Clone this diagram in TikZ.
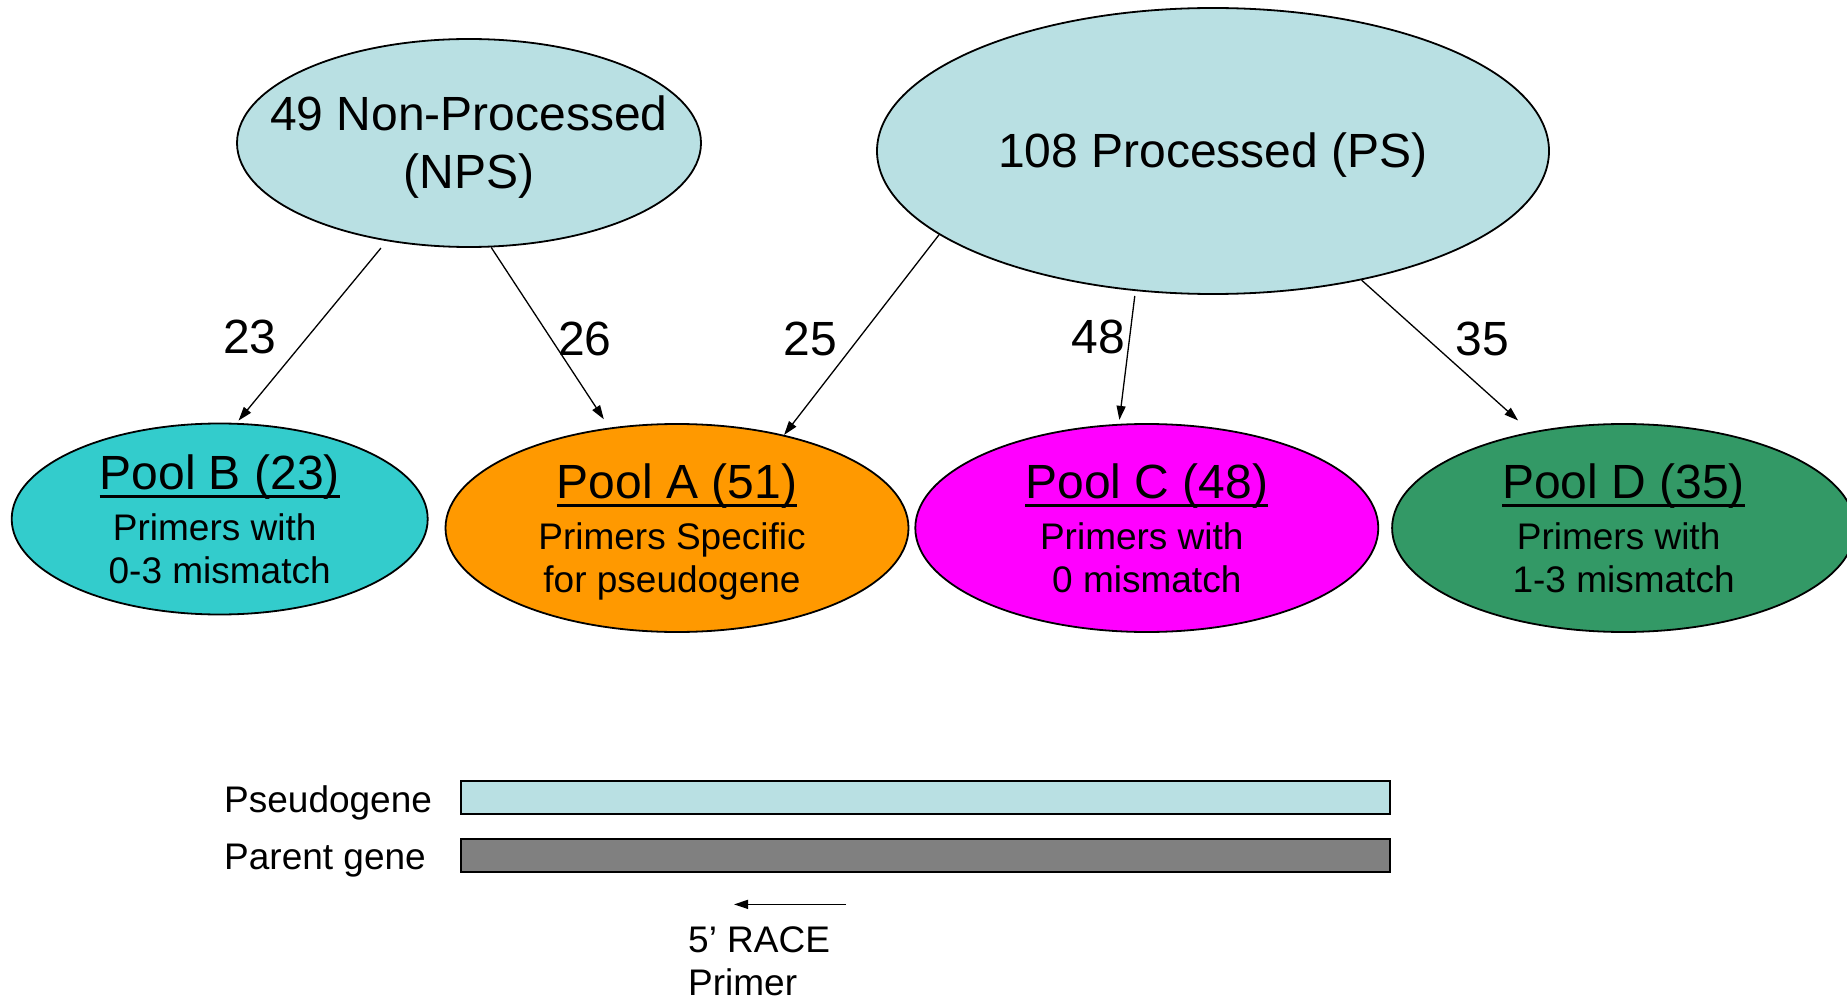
\documentclass[tikz,border=0pt]{standalone}
\usepackage{fontspec}
\setmainfont{Liberation Sans}
\usepackage{tikz}
\usetikzlibrary{shapes.geometric, arrows.meta, positioning}
\definecolor{paleblue}{RGB}{185,224,227}
\definecolor{poolb}{RGB}{51,204,204}
\definecolor{poola}{RGB}{255,153,0}
\definecolor{poolc}{RGB}{255,0,255}
\definecolor{poold}{RGB}{51,153,102}
\definecolor{parentgray}{RGB}{128,128,128}
\newcommand{\topstrut}{\rule{0pt}{0.905em}}
\newcommand{\botstrut}{\rule[-0.212em]{0pt}{0pt}}
\newcommand{\trail}{\kern10pt\null}
\newcommand{\poolhead}[1]{\setbox0\hbox{\fontsize{48}{50}\selectfont\topstrut #1}\rlap{\rule[-8.4pt]{\wd0}{3.4pt}}\box0}

\begin{document}
\begin{tikzpicture}[x=1pt, y=-1pt, node distance=5pt and 5pt,
		>={Triangle[length=14pt,width=9pt]},
		group/.style={ellipse, draw, line width=1.8pt, fill=paleblue, inner sep=0pt, align=center, font=\fontsize{48}{58}\selectfont},
		pool/.style={ellipse, draw, line width=1.8pt, inner xsep=0pt, inner ysep=-10pt, minimum width=463pt, minimum height=208pt, align=center, font=\fontsize{37}{43.6}\selectfont},
		num/.style={font=\fontsize{48}{58}\selectfont},
		gene/.style={draw, line width=2pt, minimum width=929pt, minimum height=33pt, inner sep=0pt},
		lbl/.style={font=\fontsize{37}{43}\selectfont, inner sep=0pt}]
			\useasboundingbox (0,0) rectangle (1847,1000);
			\node[group, minimum width=464pt, minimum height=208pt, inner xsep=-60pt] (nps) at (469,143) {\topstrut 49 Non-Processed\\(NPS)\botstrut};
			\node[group, minimum width=672pt, minimum height=286pt] (ps) at (1213,151) {\topstrut 108 Processed (PS)\botstrut};
			\node[pool, fill=poola] (pa) at (677,528) {\poolhead{Pool A (51)}\\[7pt]Primers Specific\trail\\for pseudogene\trail\botstrut};
				\node[pool, fill=poolb, minimum width=416pt, minimum height=191pt, left=16pt of pa, yshift=9pt] (pb) {\poolhead{Pool B (23)}\\[7pt]Primers with\trail\\0-3 mismatch\botstrut};
				\node[pool, fill=poolc, right=5pt of pa] (pc) {\poolhead{Pool C (48)}\\[7pt]Primers with\trail\\0 mismatch\botstrut};
				\node[pool, fill=poold, right=12pt of pc] (pd) {\poolhead{Pool D (35)}\\[7pt]Primers with\trail\\1-3 mismatch\botstrut};
			\foreach \from/\to/\gap/\tipgap in {nps.230/pb.80/9/3, nps.282/pa.124/0/10, ps.197/pa.41/0/0, ps.241/pc.105/5/4, ps.319/pd.134/0/17}
				\draw[->, line width=1.3pt, shorten <=\gap pt, shorten >=\tipgap pt] (\from) -- (\to);
			\foreach \n/\x/\y in {23/250/337, 26/585/339, 25/810/339, 48/1098/337, 35/1482/339}
				\node[num] (w\n) at (\x,\y) {\n};
			% gene bars
			\node[gene, fill=paleblue] (pseudo) at (925.3,797.5) {};
			\node[gene, fill=parentgray] (parent) at (925.3,855.5) {};
			\node[lbl, anchor=base west] (pseudolbl) at (224,812) {Pseudogene};
			\node[lbl, anchor=base west] (parentlbl) at (224,869) {Parent gene};
			\coordinate (racetail) at (846,904.4);
			\coordinate (racetip) at (734,904.4);
			\draw[->, line width=1.3pt] (racetail) -- (racetip);
			\node[lbl, anchor=base west, align=left] (racelbl) at (688,995) {5’ RACE\\Primer};
		\end{tikzpicture}
\end{document}
